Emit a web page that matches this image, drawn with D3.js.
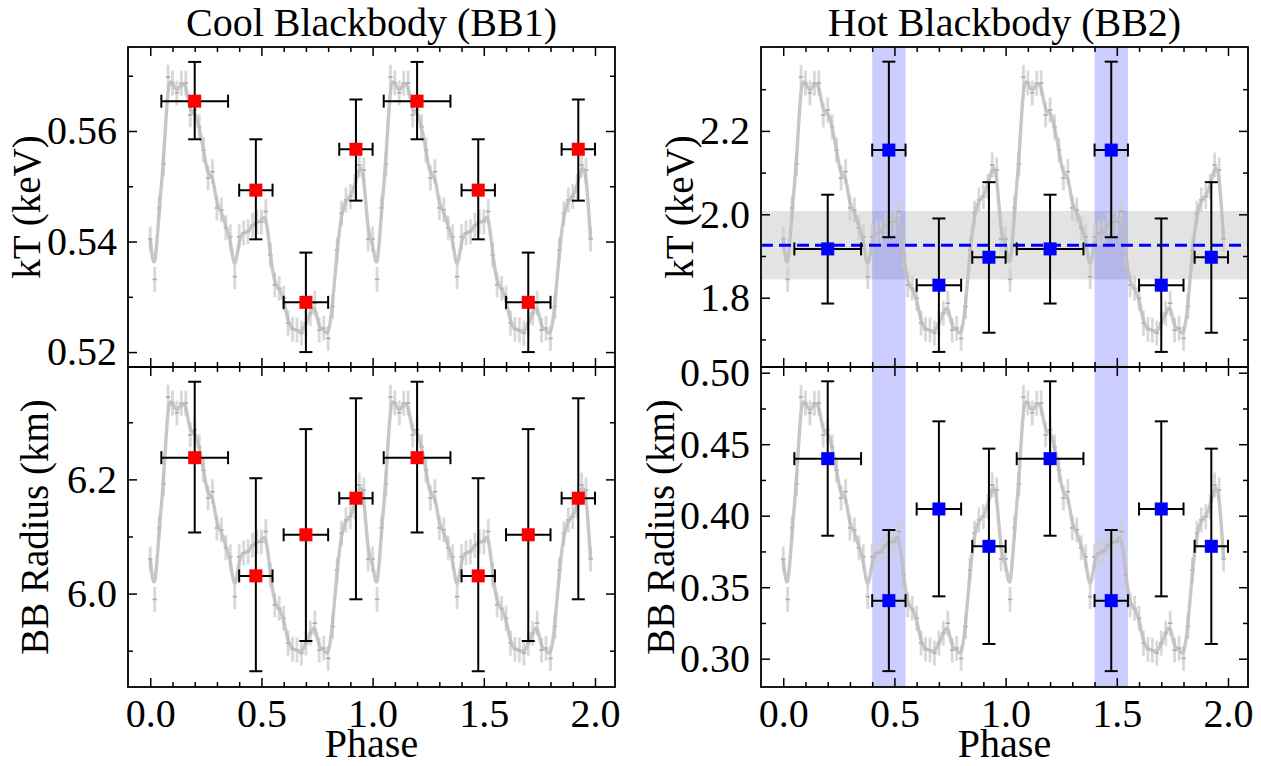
<!DOCTYPE html>
<html>
<head>
<meta charset="utf-8">
<script src="https://cdn.jsdelivr.net/npm/d3@7"></script>
<style>
  body { margin: 0; background: #fff; }
</style>
</head>
<body>
<script>
// phase bins of the spectral fits (one cycle, repeated at +1)
let binCenters = [0.2, 0.475, 0.7, 0.925];
let binHalfWidths = [0.15, 0.075, 0.1, 0.075];

// cool blackbody
let kT1 = [0.5654, 0.5493, 0.5290, 0.5567];
let kT1Lo = [0.5585, 0.5404, 0.5200, 0.5474];
let kT1Hi = [0.5725, 0.5585, 0.5380, 0.5657];
let rad1 = [6.238, 6.031, 6.103, 6.167];
let rad1Lo = [6.107, 5.864, 5.917, 5.990];
let rad1Hi = [6.371, 6.202, 6.288, 6.342];

// hot blackbody
let kT2 = [1.917, 2.154, 1.830, 1.897];
let kT2Lo = [1.786, 1.945, 1.670, 1.716];
let kT2Hi = [2.047, 2.366, 1.990, 2.077];
let rad2 = [0.4399, 0.3406, 0.4047, 0.3786];
let rad2Lo = [0.386, 0.2913, 0.3436, 0.3103];
let rad2Hi = [0.494, 0.390, 0.466, 0.4469];

// mean hot kT and its range, highlighted phase span
let kT2Mean = 1.926;
let kT2Band = [1.844, 2.008];
let hotSpan = [0.4, 0.55];

// normalised pulse profile, 50 bins per cycle (phase 0.00 .. 0.98)
let profile = [0.408, 0.262, 0.520, 0.679, 0.992, 0.971, 0.935, 0.970, 0.971, 0.856,
  0.874, 0.813, 0.729, 0.628, 0.651, 0.520, 0.513, 0.448, 0.416, 0.272,
  0.416, 0.430, 0.434, 0.458, 0.470, 0.470, 0.507, 0.350, 0.242, 0.230,
  0.194, 0.104, 0.082, 0.079, 0.068, 0.104, 0.140, 0.176, 0.079, 0.086,
  0.049, 0.164, 0.368, 0.501, 0.549, 0.561, 0.597, 0.675, 0.657, 0.408];
let profileErr = 0.045;
let profileBin = 0.02;

let svgWidth = 1261;
let svgHeight = 766;
let panelW = 487;
let panelH = 320;
let top0 = 47;
let lefts = [128, 761];
let serif = '"Liberation Serif", "Times New Roman", Times, serif';

let svg = d3.select('body')
  .append('svg')
  .attr('width', svgWidth)
  .attr('height', svgHeight);

let x = d3.scaleLinear().domain([-0.1, 2.09]).range([0, panelW]);

// profile points for two cycles
let profPts = [];
for (let c = 0; c < 2; c++) {
  profile.forEach((v, i) => profPts.push({ p: c + i * profileBin, v: v }));
}

function makePoints(vals, lo, hi) {
  let pts = [];
  for (let c = 0; c < 2; c++) {
    vals.forEach((v, i) => pts.push({
      p: c + binCenters[i], w: binHalfWidths[i], v: v, lo: lo[i], hi: hi[i]
    }));
  }
  return pts;
}

let panels = [
  { col: 0, row: 0, domain: [0.5173, 0.5752], major: [0.52, 0.54, 0.56], minor: [0.53, 0.55, 0.57],
    fmt: d3.format('.2f'), pts: makePoints(kT1, kT1Lo, kT1Hi), color: '#ff0000',
    label: 'kT (keV)', labelX: 26, title: 'Cool Blackbody (BB1)' },
  { col: 0, row: 1, domain: [5.8364, 6.3968], major: [6.0, 6.2], minor: [5.9, 6.1, 6.3],
    fmt: d3.format('.1f'), pts: makePoints(rad1, rad1Lo, rad1Hi), color: '#ff0000',
    label: 'BB Radius (km)', labelX: 34 },
  { col: 1, row: 0, domain: [1.6338, 2.4012], major: [1.8, 2.0, 2.2], minor: [1.7, 1.9, 2.1, 2.3],
    fmt: d3.format('.1f'), pts: makePoints(kT2, kT2Lo, kT2Hi), color: '#0000ff',
    label: 'kT (keV)', labelX: 679, title: 'Hot Blackbody (BB2)', hot: true },
  { col: 1, row: 1, domain: [0.2802, 0.504], major: [0.30, 0.35, 0.40, 0.45, 0.50], minor: [0.325, 0.375, 0.425, 0.475],
    fmt: d3.format('.2f'), pts: makePoints(rad2, rad2Lo, rad2Hi), color: '#0000ff',
    label: 'BB Radius (km)', labelX: 660 }
];

panels.forEach(function (cfg) {
  let ox = lefts[cfg.col];
  let oy = top0 + cfg.row * panelH;
  let g = svg.append('g').attr('transform', `translate(${ox}, ${oy})`);
  let y = d3.scaleLinear().domain(cfg.domain).range([panelH, 0]);
  let yProf = d3.scaleLinear().domain([-0.0542, 1.1011]).range([panelH, 0]);

  let clipId = `clip-${cfg.col}-${cfg.row}`;
  g.append('clipPath').attr('id', clipId)
    .append('rect').attr('width', panelW).attr('height', panelH);
  let plot = g.append('g').attr('clip-path', `url(#${clipId})`);

  if (cfg.hot) {
    plot.append('rect')
      .attr('x', 0).attr('width', panelW)
      .attr('y', y(kT2Band[1])).attr('height', y(kT2Band[0]) - y(kT2Band[1]))
      .attr('fill', '#808080').attr('opacity', 0.22);
  }
  if (cfg.col === 1) {
    [0, 1].forEach(function (c) {
      plot.append('rect')
        .attr('x', x(hotSpan[0] + c)).attr('width', x(hotSpan[1] + c) - x(hotSpan[0] + c))
        .attr('y', 0).attr('height', panelH)
        .attr('fill', '#0000ff').attr('opacity', 0.2);
    });
  }

  // pulse profile in the background
  plot.selectAll('.perr').data(profPts).enter().append('line')
    .attr('x1', d => x(d.p)).attr('x2', d => x(d.p))
    .attr('y1', d => yProf(d.v - profileErr)).attr('y2', d => yProf(d.v + profileErr))
    .attr('stroke', '#cfcfcf').attr('stroke-width', 2.8).attr('opacity', 0.8);
  plot.selectAll('.pbin').data(profPts).enter().append('line')
    .attr('x1', d => x(d.p - profileBin / 2)).attr('x2', d => x(d.p + profileBin / 2))
    .attr('y1', d => yProf(d.v)).attr('y2', d => yProf(d.v))
    .attr('stroke', '#aaaaaa').attr('stroke-width', 1.6);
  plot.append('path')
    .datum(profPts)
    .attr('d', d3.line().x(d => x(d.p)).y(d => yProf(d.v)).curve(d3.curveBasis))
    .attr('fill', 'none').attr('stroke', '#bdbdbd').attr('stroke-width', 3.4).attr('opacity', 0.85);

  if (cfg.hot) {
    plot.append('line')
      .attr('x1', 0).attr('x2', panelW)
      .attr('y1', y(kT2Mean)).attr('y2', y(kT2Mean))
      .attr('stroke', '#0000ff').attr('stroke-width', 3).attr('stroke-dasharray', '12,6');
  }

  // error bars and points
  let cap = 6.5;
  let eb = plot.selectAll('.eb').data(cfg.pts).enter().append('g')
    .attr('stroke', '#000').attr('stroke-width', 2);
  eb.append('line')
    .attr('x1', d => x(d.p)).attr('x2', d => x(d.p))
    .attr('y1', d => y(d.lo)).attr('y2', d => y(d.hi));
  eb.append('line')
    .attr('x1', d => x(d.p - d.w)).attr('x2', d => x(d.p + d.w))
    .attr('y1', d => y(d.v)).attr('y2', d => y(d.v));
  eb.append('line')
    .attr('x1', d => x(d.p) - cap).attr('x2', d => x(d.p) + cap)
    .attr('y1', d => y(d.lo)).attr('y2', d => y(d.lo));
  eb.append('line')
    .attr('x1', d => x(d.p) - cap).attr('x2', d => x(d.p) + cap)
    .attr('y1', d => y(d.hi)).attr('y2', d => y(d.hi));
  eb.append('line')
    .attr('x1', d => x(d.p - d.w)).attr('x2', d => x(d.p - d.w))
    .attr('y1', d => y(d.v) - cap).attr('y2', d => y(d.v) + cap);
  eb.append('line')
    .attr('x1', d => x(d.p + d.w)).attr('x2', d => x(d.p + d.w))
    .attr('y1', d => y(d.v) - cap).attr('y2', d => y(d.v) + cap);

  let sq = 13;
  plot.selectAll('.pt').data(cfg.pts).enter().append('rect')
    .attr('x', d => x(d.p) - sq / 2).attr('y', d => y(d.v) - sq / 2)
    .attr('width', sq).attr('height', sq)
    .attr('fill', cfg.color);

  // axes, ticks pointing inward on all sides
  let xMajor = [0, 0.5, 1, 1.5, 2];
  let xMinor = d3.range(0, 21).map(i => i / 10).filter(v => xMajor.indexOf(v) < 0);
  let showX = cfg.row === 1;

  let addAxis = function (axis, tr) {
    let a = g.append('g').attr('transform', tr).call(axis);
    a.select('.domain').remove();
    a.attr('font-family', null).attr('font-size', null);
    a.selectAll('line').attr('stroke', '#000').attr('stroke-width', 1.5);
    a.selectAll('text')
      .style('font-family', serif)
      .style('font-size', '40px')
      .attr('fill', '#000');
    return a;
  };

  addAxis(d3.axisBottom(x).tickValues(xMajor).tickSize(-9).tickPadding(12)
    .tickFormat(showX ? d3.format('.1f') : ''), `translate(0, ${panelH})`)
    .selectAll('text').attr('dy', '0.71em');
  addAxis(d3.axisBottom(x).tickValues(xMinor).tickSize(-5).tickFormat(''), `translate(0, ${panelH})`);
  addAxis(d3.axisTop(x).tickValues(xMajor).tickSize(-9).tickFormat(''), 'translate(0, 0)');
  addAxis(d3.axisTop(x).tickValues(xMinor).tickSize(-5).tickFormat(''), 'translate(0, 0)');

  addAxis(d3.axisLeft(y).tickValues(cfg.major).tickSize(-9).tickPadding(11).tickFormat(cfg.fmt), 'translate(0, 0)');
  addAxis(d3.axisLeft(y).tickValues(cfg.minor).tickSize(-5).tickFormat(''), 'translate(0, 0)');
  addAxis(d3.axisRight(y).tickValues(cfg.major).tickSize(-9).tickFormat(''), `translate(${panelW}, 0)`);
  addAxis(d3.axisRight(y).tickValues(cfg.minor).tickSize(-5).tickFormat(''), `translate(${panelW}, 0)`);

  g.append('rect')
    .attr('width', panelW).attr('height', panelH)
    .attr('fill', 'none').attr('stroke', '#000').attr('stroke-width', 1.8);

  svg.append('text')
    .attr('transform', `translate(${cfg.labelX}, ${oy + panelH / 2}) rotate(-90)`)
    .attr('text-anchor', 'middle')
    .attr('dy', '0.35em')
    .style('font-family', serif)
    .style('font-size', '39px')
    .text(cfg.label);

  if (cfg.title) {
    svg.append('text')
      .attr('x', ox + panelW / 2)
      .attr('y', 36)
      .attr('text-anchor', 'middle')
      .style('font-family', serif)
      .style('font-size', '40px')
      .text(cfg.title);
  }
  if (showX) {
    svg.append('text')
      .attr('x', ox + panelW / 2)
      .attr('y', 757)
      .attr('text-anchor', 'middle')
      .style('font-family', serif)
      .style('font-size', '40px')
      .text('Phase');
  }
});
</script>
</body>
</html>
